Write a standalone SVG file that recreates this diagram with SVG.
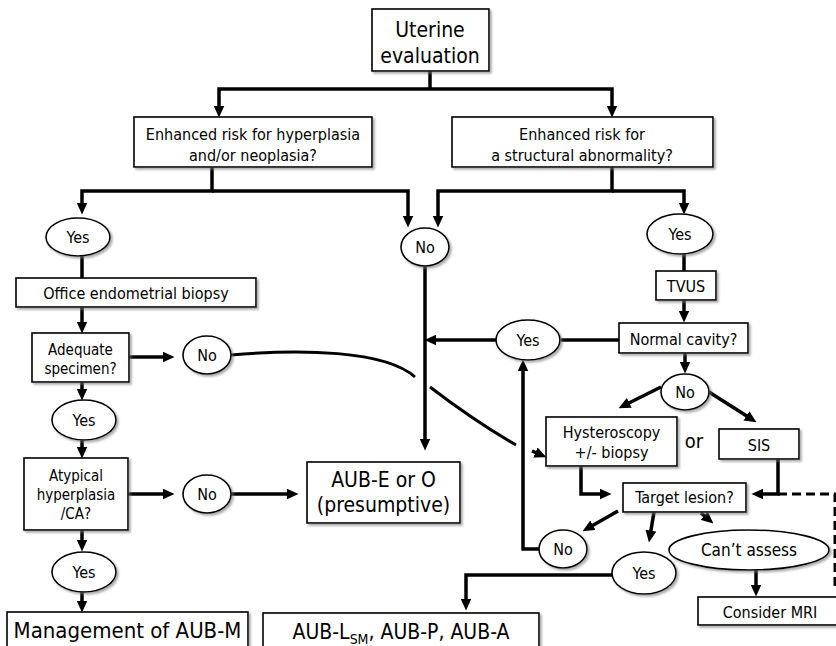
<svg xmlns="http://www.w3.org/2000/svg" width="836" height="646" viewBox="0 0 836 646">
<defs>
<filter id="sh" x="-10%" y="-10%" width="130%" height="140%">
<feDropShadow dx="2" dy="2" stdDeviation="1.2" flood-color="#777" flood-opacity="0.6"/>
</filter>
<marker id="ah" markerUnits="userSpaceOnUse" markerWidth="12" markerHeight="11" refX="5" refY="5" orient="auto" viewBox="0 0 11 10">
<path d="M0,0 L11,5 L0,10 z" fill="#000"/>
</marker>
</defs>
<style>
.b{fill:#fff;stroke:#000;stroke-width:1.6;filter:url(#sh)}
.c{fill:none;stroke:#000;stroke-width:3.5}
.a{marker-end:url(#ah)}
.cv{fill:none;stroke:#000;stroke-width:3}
.d{fill:none;stroke:#000;stroke-width:3;stroke-dasharray:9,5}
text{font-family:"DejaVu Sans Condensed","DejaVu Sans",sans-serif;font-stretch:condensed;text-anchor:middle;fill:#000}
.t16{font-size:16px}
.t15{font-size:15px}
.t21{font-size:21px}
</style>
<rect width="836" height="646" fill="#fff"/>
<g id="connectors">
<path class="c" d="M430,71 V89"/>
<path class="c a" d="M430,89 H219 V111"/>
<path class="c a" d="M430,89 H612 V111"/>
<path class="c a" d="M212,167 V191 H82 V208"/>
<path class="c a" d="M212,191 H408 V221"/>
<path class="c a" d="M612,167 V191 H438 V221"/>
<path class="c a" d="M612,191 H684 V208"/>
<path class="c" d="M82,256 V278"/>
<path class="c a" d="M82,307 V327"/>
<path class="c a" d="M129,357 H168"/>
<path class="c a" d="M82,382 V394"/>
<path class="c a" d="M82,440 V452"/>
<path class="c a" d="M128,494 H168"/>
<path class="c a" d="M231,494 H292"/>
<path class="c a" d="M82,530 V545"/>
<path class="c a" d="M82,592 V606"/>
<path class="c a" d="M425,266 V444"/>
<path class="c" d="M619,340 H561"/>
<path class="c a" d="M496,340 H431"/>
<path class="c" d="M684,254 V271"/>
<path class="c a" d="M684,300 V316"/>
<path class="c a" d="M685,353 V367"/>
<path class="c a" d="M661,387 L624.4,405.3"/>
<path class="c a" d="M709,392 L751,418.8"/>
<path class="c a" d="M581,466 V494 H605"/>
<path class="c a" d="M778,459 V494 H758"/>
<path class="d" d="M778,494 H835 V588"/>
<path class="c a" d="M618,511 L588.2,528"/>
<path class="c a" d="M654,512 L650,536"/>
<path class="c a" d="M701,513 L708.4,519.2"/>
<path class="c a" d="M539,549 H523 V366"/>
<path class="c a" d="M612,575 H466 V604"/>
<path class="c a" d="M756,570 V590"/>
<path class="cv" d="M231,355 C300,349 385,350 415,377"/>
<path class="cv" d="M430,387 C460,410 490,430 516,445"/>
<path class="c a" d="M532,451 L540.4,454.6"/>
</g>
<g id="n-uterine"><rect class="b" x="372" y="9" width="117" height="62"/><text class="t21" x="430" y="37">Uterine</text><text class="t21" x="430" y="63">evaluation</text></g>
<g id="n-risk-hyper"><rect class="b" x="134" y="117" width="238" height="50"/><text class="t16" x="253" y="140">Enhanced risk for hyperplasia</text><text class="t16" x="253" y="161">and/or neoplasia?</text></g>
<g id="n-risk-struct"><rect class="b" x="452" y="117" width="261" height="50"/><text class="t16" x="582" y="140">Enhanced risk for</text><text class="t16" x="582" y="161">a structural abnormality?</text></g>
<g id="n-yes1"><ellipse class="b" cx="78" cy="237" rx="32" ry="19"/><text class="t16" x="78" y="243">Yes</text></g>
<g id="n-no1"><ellipse class="b" cx="425" cy="247" rx="24" ry="19"/><text class="t16" x="425" y="253">No</text></g>
<g id="n-yes2"><ellipse class="b" cx="680" cy="234" rx="33" ry="20"/><text class="t16" x="680" y="240">Yes</text></g>
<g id="n-biopsy"><rect class="b" x="16" y="278" width="240" height="29"/><text class="t16" x="136" y="299">Office endometrial biopsy</text></g>
<g id="n-tvus"><rect class="b" x="656" y="271" width="60" height="29"/><text class="t16" x="686" y="292">TVUS</text></g>
<g id="n-adequate"><rect class="b" x="32" y="333" width="97" height="49"/><text class="t15" x="80.5" y="355">Adequate</text><text class="t15" x="80.5" y="374">specimen?</text></g>
<g id="n-no2"><ellipse class="b" cx="207" cy="355" rx="24" ry="19"/><text class="t16" x="207" y="361">No</text></g>
<g id="n-normal"><rect class="b" x="619" y="323" width="129" height="30"/><text class="t16" x="683.5" y="345">Normal cavity?</text></g>
<g id="n-yes3"><ellipse class="b" cx="528" cy="340" rx="32" ry="20"/><text class="t16" x="528" y="346">Yes</text></g>
<g id="n-no3"><ellipse class="b" cx="685" cy="392" rx="24" ry="18"/><text class="t16" x="685" y="398">No</text></g>
<g id="n-yes4"><ellipse class="b" cx="84" cy="420" rx="32" ry="20"/><text class="t16" x="84" y="426">Yes</text></g>
<g id="n-hystero"><rect class="b" x="546" y="417" width="131" height="49"/><text class="t16" x="611.5" y="438">Hysteroscopy</text><text class="t16" x="611.5" y="458">+/- biopsy</text></g>
<text id="t-or" style="font-size:20px" x="694" y="448">or</text>
<g id="n-sis"><rect class="b" x="719" y="429" width="80" height="30"/><text class="t16" x="759" y="451">SIS</text></g>
<g id="n-atypical"><rect class="b" x="24" y="458" width="104" height="72"/><text class="t15" x="76" y="481">Atypical</text><text class="t15" x="76" y="500">hyperplasia</text><text class="t15" x="76" y="519">/CA?</text></g>
<g id="n-no4"><ellipse class="b" cx="207" cy="494" rx="24" ry="19"/><text class="t16" x="207" y="500">No</text></g>
<g id="n-aube"><rect class="b" x="307" y="462" width="153" height="61"/><text class="t21" x="383.5" y="487">AUB-E or O</text><text class="t21" x="383.5" y="512">(presumptive)</text></g>
<g id="n-target"><rect class="b" x="623" y="483" width="123" height="29"/><text class="t16" x="684.5" y="503">Target lesion?</text></g>
<g id="n-no5"><ellipse class="b" cx="563" cy="549" rx="24" ry="19"/><text class="t16" x="563" y="555">No</text></g>
<g id="n-cant"><ellipse class="b" cx="749" cy="550" rx="80" ry="20"/><text style="font-size:17px" x="749" y="556">Can’t assess</text></g>
<g id="n-yes5"><ellipse class="b" cx="644" cy="573" rx="32" ry="21"/><text class="t16" x="644" y="579">Yes</text></g>
<g id="n-yes6"><ellipse class="b" cx="84" cy="572" rx="32" ry="20"/><text class="t16" x="84" y="578">Yes</text></g>
<g id="n-mri"><rect class="b" x="698" y="597" width="145" height="28"/><text class="t16" x="770" y="618">Consider MRI</text></g>
<g id="n-mgmt"><rect class="b" x="7" y="612" width="241" height="44"/><text style="font-size:22px" x="127.5" y="638">Management of AUB-M</text></g>
<g id="n-aubl"><rect class="b" x="263" y="613" width="276" height="44"/><text class="t21" x="401" y="639">AUB-L<tspan style="font-size:14px" dy="5">SM</tspan><tspan dy="-5">, AUB-P, AUB-A</tspan></text></g>
</svg>
